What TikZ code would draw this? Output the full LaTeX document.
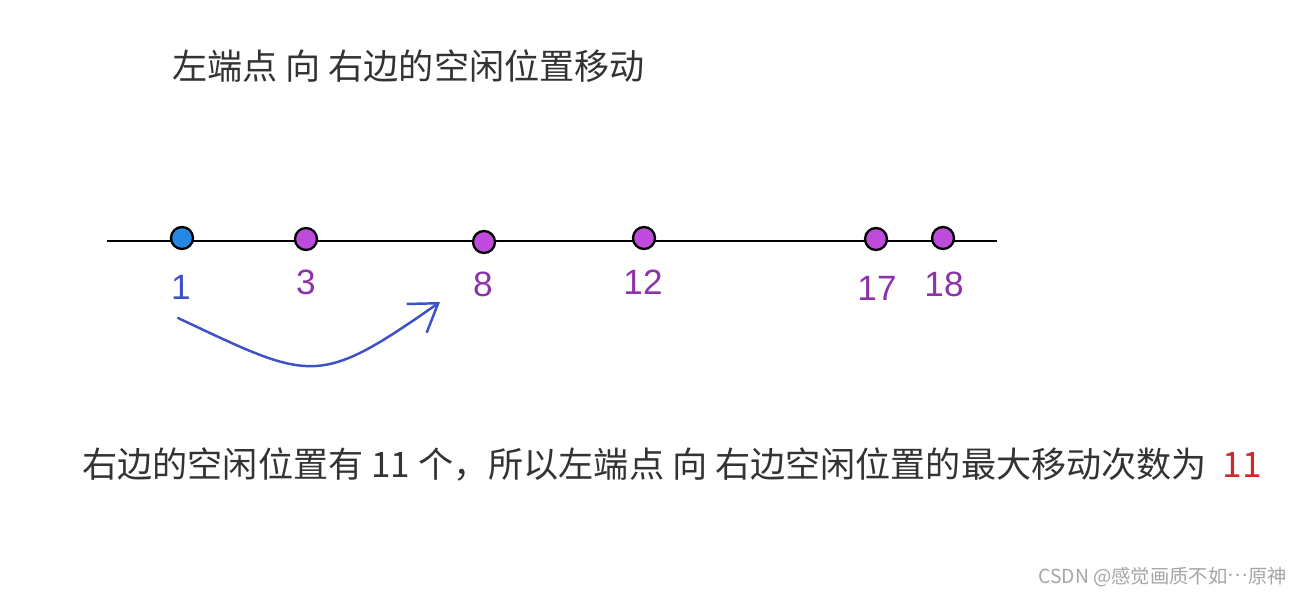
\documentclass[tikz,border=0pt]{standalone}
\usepackage{fontspec}
\setmainfont{Liberation Sans}
\newfontfamily\cjk{Noto Sans CJK SC}
\usepackage{tikz}
\usetikzlibrary{arrows.meta}

\begin{document}
\begin{tikzpicture}[
  x=0.02cm, y=-0.02cm,
  dot/.style={
    circle,
    draw=black,
    line width=1.3pt,
    minimum size=0.44cm,
    inner sep=0pt
  },
  numlabel/.style={
    font=\fontsize{20}{24}\selectfont,
    text=numpurple,
    inner sep=0pt
  },
  bigtext/.style={
    font=\cjk\fontsize{20}{24}\selectfont,
    text=textgray,
    anchor=west,
    inner sep=0pt
  }
]

\definecolor{dotblue}{RGB}{35,137,228}
\definecolor{dotpurple}{RGB}{190,75,220}
\definecolor{numpurple}{RGB}{140,50,170}
\definecolor{numblue}{RGB}{60,80,200}
\definecolor{textgray}{RGB}{51,51,51}
\definecolor{numred}{RGB}{210,40,40}
\definecolor{markgray}{RGB}{165,165,165}

\useasboundingbox (0,0) rectangle (1301,597);

\node[bigtext] (title) at (172,66) {左端点 向 右边的空闲位置移动};

\coordinate (axL) at (107,241);
\coordinate (axR) at (997,241);
\draw[line width=1.6pt] (axL) -- (axR);

\node[dot, fill=dotblue] (p1) at (182,238) {};
\node[dot, fill=dotpurple] (p3) at (306,239) {};
\node[dot, fill=dotpurple] (p8) at (484,242) {};
\node[dot, fill=dotpurple] (p12) at (644,238) {};
\node[dot, fill=dotpurple] (p17) at (876,239) {};
\node[dot, fill=dotpurple] (p18) at (943,238) {};

\node[numlabel, text=numblue] (l1) at (181,287) {1};
\node[numlabel] (l3) at (306,282) {3};
\node[numlabel] (l8) at (483,284) {8};
\node[numlabel] (l12) at (643,282) {12};
\node[numlabel] (l17) at (877,288) {17};
\node[numlabel] (l18) at (944,284) {18};

% move of the left end point
\coordinate (mvS) at (178,318);
\coordinate (mvE) at (440,302);
\draw[numblue, line width=1.4pt, line cap=round,
      -{Straight Barb[length=15pt, width=20pt, line width=1.4pt]}]
  (mvS) .. controls (312,381) and (317,388) .. (mvE);

\node[bigtext] (result) at (82,464)
  {右边的空闲位置有 11 个，所以左端点 向 右边空闲位置的最大移动次数为\ \ {\color{numred}11}};

\node[font=\cjk\fontsize{11}{13}\selectfont, text=markgray, anchor=east, inner sep=0pt]
  (mark) at (1287,577) {CSDN @感觉画质不如\raisebox{0.35em}{…}原神};

\end{tikzpicture}
\end{document}
